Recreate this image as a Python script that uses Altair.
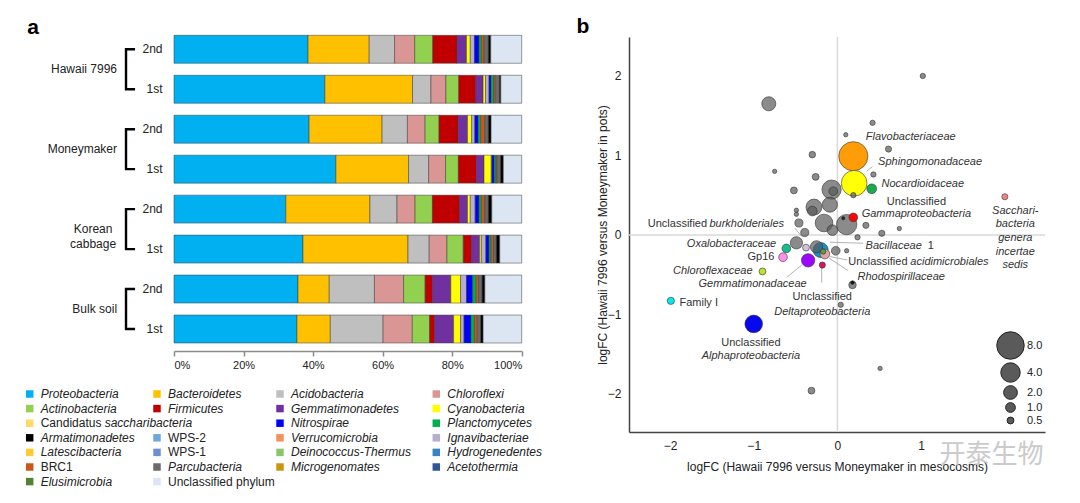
import altair as alt
import pandas as pd

FONT = "Liberation Sans"
INK = "#222222"

# ======================= panel a : phylum composition =======================
sample_keys = ["Hawaii 7996|2nd", "Hawaii 7996|1st", "Moneymaker|2nd", "Moneymaker|1st",
               "Korean cabbage|2nd", "Korean cabbage|1st", "Bulk soil|2nd", "Bulk soil|1st"]
group_labels = ["Hawaii 7996", "Moneymaker", "Korean\ncabbage", "Bulk soil"]

proteobacteria   = [38.6, 43.4, 38.9, 46.8, 32.2, 37.1, 35.7, 35.4]
bacteroidetes    = [17.6, 25.2, 21.0, 21.0, 24.2, 30.2, 9.0, 9.6]
acidobacteria    = [7.3, 5.3, 7.3, 5.8, 7.8, 6.1, 13.0, 15.2]
chloroflexi      = [5.8, 4.3, 5.1, 4.9, 5.2, 5.1, 8.4, 8.4]
actinobacteria   = [5.2, 3.7, 4.0, 3.7, 5.0, 4.7, 6.2, 5.0]
firmicutes       = [7.0, 4.9, 5.5, 5.2, 7.8, 2.4, 2.1, 1.4]
gemmatimonadetes = [2.7, 2.1, 2.7, 2.2, 2.3, 2.3, 5.3, 5.5]
cyanobacteria    = [1.1, 0.7, 1.2, 2.1, 0.8, 0.5, 2.8, 2.0]
ignavibacteriae  = [1.2, 1.0, 0.9, 0.2, 1.4, 1.3, 1.7, 1.0]
nitrospirae      = [1.3, 0.6, 1.0, 0.7, 1.1, 0.9, 1.8, 2.0]
planctomycetes   = [0.7, 0.7, 0.7, 0.5, 0.7, 0.6, 1.0, 1.0]
brc1             = [0.8, 0.5, 1.2, 0.3, 1.0, 0.7, 0.7, 0.8]
parcubacteria    = [1.2, 1.2, 1.0, 1.0, 1.0, 0.8, 1.0, 1.0]
armatimonadetes  = [0.7, 0.4, 0.8, 0.8, 1.0, 1.0, 0.8, 0.7]
unclassified     = [8.9, 6.0, 8.8, 5.3, 8.6, 6.3, 10.6, 11.1]

stack_series = [
    ("Proteobacteria", proteobacteria), ("Bacteroidetes", bacteroidetes),
    ("Acidobacteria", acidobacteria), ("Chloroflexi", chloroflexi),
    ("Actinobacteria", actinobacteria), ("Firmicutes", firmicutes),
    ("Gemmatimonadetes", gemmatimonadetes), ("Cyanobacteria", cyanobacteria),
    ("Ignavibacteriae", ignavibacteriae), ("Nitrospirae", nitrospirae),
    ("Planctomycetes", planctomycetes), ("BRC1", brc1),
    ("Parcubacteria", parcubacteria), ("Armatimonadetes", armatimonadetes),
    ("Unclassified phylum", unclassified),
]

legend_names = ["Proteobacteria", "Bacteroidetes", "Acidobacteria", "Chloroflexi",
                "Actinobacteria", "Firmicutes", "Gemmatimonadetes", "Cyanobacteria",
                "Candidatus saccharibacteria", "Nitrospirae", "Planctomycetes",
                "Armatimonadetes", "WPS-2", "Verrucomicrobia", "Ignavibacteriae",
                "Latescibacteria", "WPS-1", "Deinococcus-Thermus", "Hydrogenedentes",
                "BRC1", "Parcubacteria", "Microgenomates", "Acetothermia",
                "Elusimicrobia", "Unclassified phylum"]
legend_colors = ["#00b0f0", "#ffc000", "#bfbfbf", "#da9694",
                 "#92d050", "#c00000", "#7030a0", "#ffff00",
                 "#ffd966", "#0000ff", "#00b050",
                 "#000000", "#6fa8dc", "#f4915a", "#b7aed0",
                 "#ffcc33", "#6d8fd0", "#8dc66a", "#3b82c4",
                 "#c8581a", "#6b6b6b", "#c9960c", "#2f5597",
                 "#548235", "#dce6f2"]
legend_col = [0, 1, 2, 3, 0, 1, 2, 3, 0, 2, 3, 0, 1, 2, 3, 0, 1, 2, 3, 0, 1, 2, 3, 0, 1]
legend_row = [0, 0, 0, 0, 1, 1, 1, 1, 2, 2, 2, 3, 3, 3, 3, 4, 4, 4, 4, 5, 5, 5, 5, 6, 6]
upright_names = ["WPS-2", "WPS-1", "BRC1", "Unclassified phylum"]

# ======================= panel b : logFC bubble plot =======================
GRAY = "#5a5a5a"
pt_x = [1.02, -0.82, 0.42, 0.10, 0.19, 0.61, -0.30, -0.75, -0.26, 0.43,
        0.20, 0.41, 0.19, -0.07, -0.05, -0.52, -0.28, -0.30, -0.09, -0.49,
        -0.49, -0.16, 0.11, 0.19, -0.06, -0.46, -0.39, 0.34, 0.53, 0.74,
        0.24, 2.00, -0.61, -0.49, -0.375, -0.65, -0.35, -0.895, -1.99, -1.00,
        -0.25, -0.20, -0.15, -0.17, -0.18, -0.02, 0.11, 0.18, 0.18, 0.04,
        0.51, -0.31, 0.07]
pt_y = [2.00, 1.65, 1.41, 1.26, 0.99, 1.08, 1.01, 0.80, 0.73, 0.76,
        0.65, 0.58, 0.50, 0.57, 0.55, 0.56, 0.35, 0.30, 0.38, 0.31,
        0.26, 0.15, 0.13, 0.22, 0.06, 0.15, 0.03, 0.12, 0.02, 0.08,
        -0.03, 0.48, -0.17, -0.10, -0.16, -0.28, -0.32, -0.46, -0.83, -1.12,
        -0.15, -0.19, -0.24, -0.21, -0.38, -0.20, -0.20, -0.63, -0.60, -0.88,
        -1.68, -1.96, 0.21]
pt_abund = [0.3, 2.1, 0.3, 0.2, 9.0, 0.4, 0.45, 0.2, 0.5, 0.3,
            7.0, 1.0, 0.3, 3.9, 0.8, 0.5, 2.7, 1.0, 2.4, 0.2,
            0.2, 3.3, 4.4, 0.8, 1.2, 0.7, 0.7, 0.4, 0.4, 0.2,
            0.3, 0.4, 0.8, 1.6, 0.5, 0.8, 1.9, 0.5, 0.55, 3.3,
            1.6, 2.4, 1.0, 0.3, 0.4, 0.8, 0.2, 0.6, 0.15, 0.3,
            0.2, 0.5, 0.12]
pt_fill = [GRAY, GRAY, GRAY, GRAY, "#ff9900", GRAY, GRAY, GRAY, GRAY, GRAY,
           "#ffff00", "#12a84a", GRAY, GRAY, GRAY, GRAY, GRAY, GRAY, GRAY, GRAY,
           GRAY, GRAY, GRAY, "#ff0000", GRAY, GRAY, GRAY, GRAY, GRAY, GRAY,
           GRAY, "#f08080", "#14b88a", GRAY, "#cdbfe3", "#ff8cf0", "#9900ff", "#b8e32a", "#00e5ee", "#0000ee",
           GRAY, "#0a8fd0", "#e3a3a0", "#5c9a3c", "#d6105a", GRAY, GRAY, GRAY, "#111111", GRAY,
           GRAY, GRAY, "#222222"]

lab_text = ["Flavobacteriaceae", "Sphingomonadaceae", "Nocardioidaceae", "Unclassified",
            "Gammaproteobacteria", "Sacchari-", "bacteria", "genera", "incertae", "sedis",
            "Unclassified", "burkholderiales", "Oxalobacteraceae", "Gp16", "Chloroflexaceae",
            "Gemmatimonadaceae", "Family I", "Unclassified", "Alphaproteobacteria",
            "Bacillaceae", "1", "Unclassified", "acidimicrobiales", "Rhodospirillaceae",
            "Unclassified", "Deltaproteobacteria"]
lab_x = [0.339, 0.486, 0.526, 0.943, 0.943, 2.125, 2.125, 2.125, 2.125, 2.125,
         -1.557, -1.529, -0.732, -0.752, -1.014, -0.367, -1.887, -1.033, -1.033,
         0.336, 1.08, 0.129, 0.871, 0.240, -0.181, -0.181]
lab_y = [1.23, 0.916, 0.642, 0.419, 0.261, 0.306, 0.135, -0.038, -0.21, -0.378,
         0.139, 0.139, -0.113, -0.281, -0.453, -0.617, -0.853, -1.364, -1.524,
         -0.139, -0.139, -0.336, -0.336, -0.533, -0.777, -0.966]
lab_align = ["left", "left", "left", "center", "center", "center", "center", "center", "center", "center",
             "right", "left", "right", "right", "right", "right", "left", "center", "center",
             "left", "left", "left", "left", "left", "center", "center"]
lab_italic = [1, 1, 1, 0, 1, 1, 1, 1, 1, 1,
              0, 1, 1, 0, 1, 1, 0, 0, 1,
              1, 0, 0, 1, 1, 0, 1]

lead_x = [0.419, -0.506, -0.605, 0.307, 0.117, 0.129, -0.188]
lead_y = [0.86, 0.084, -0.533, -0.105, -0.315, -0.45, -0.60]
lead_x2 = [0.348, -0.426, -0.426, -0.089, -0.089, -0.098, -0.188]
lead_y2 = [0.80, -0.021, -0.378, -0.092, -0.273, -0.293, -0.40]

size_legend_values = [8, 4, 2, 1, 0.5]

# ======================= layout (pixels inside the 1064x487 view) =======================
W, H = 1064, 487
BAR_X_RANGE = [166, 513.7]
BAR_Y_RANGE = [25.3, 337]
LEG_COL_X = [21.7, 149.0, 272.0, 428.3]
LEG_ROW_RANGE = [386, 473.6]
SC_X_RANGE = [621, 1037]
SC_Y_RANGE = [424, 29]
SC_X_DOMAIN = [-2.49, 2.48]
SC_Y_DOMAIN = [-2.48, 2.49]

# ---------------- panel a layers ----------------
rows = []
for i, (name, vals) in enumerate(stack_series):
    for k, v in zip(sample_keys, vals):
        rows.append({"key": k, "phylum": name, "pct": v, "ord": i})
bars_df = pd.DataFrame(rows)

xa_scale = alt.Scale(domain=[0, 1], range=BAR_X_RANGE, nice=False, zero=False)
ya_scale = alt.Scale(domain=sample_keys, range=BAR_Y_RANGE, paddingInner=0.3, paddingOuter=0.05)
xa_axis = alt.Axis(orient="bottom", offset=343 - H, values=[0, 0.2, 0.4, 0.6, 0.8, 1.0],
                   format=".0%", grid=False, domainColor="#8c8c8c", domainWidth=1.5,
                   tickColor="#8c8c8c", tickWidth=1.5, tickSize=5, labelFont=FONT,
                   labelFontSize=11, labelColor=INK, labelPadding=3, title=None)
ya_axis = alt.Axis(orient="left", offset=-BAR_X_RANGE[0], domain=False, ticks=False, tickSize=0,
                   labelPadding=12, labelExpr="split(datum.label, '|')[1]", labelFont=FONT,
                   labelFontSize=12, labelColor=INK, title=None)


def XA(field):
    return alt.X(field, scale=xa_scale, axis=xa_axis)


def YA(field):
    return alt.Y(field, scale=ya_scale, axis=ya_axis)


bars = alt.Chart(bars_df).mark_bar(stroke="#3a3a3a", strokeWidth=0.5).encode(
    x=alt.X("pct:Q", stack="normalize", scale=xa_scale, axis=xa_axis),
    y=YA("key:N"),
    color=alt.Color("phylum:N", scale=alt.Scale(domain=legend_names, range=legend_colors), legend=None),
    order=alt.Order("ord:Q", sort="ascending"),
)

br_rows = []
for g in range(4):
    k2, k1 = sample_keys[2 * g], sample_keys[2 * g + 1]
    for o, (bx, k) in enumerate([(-0.112, k2), (-0.138, k2), (-0.138, k1), (-0.112, k1)]):
        br_rows.append({"grp": g, "o": o, "bx": bx, "key": k})
brackets = alt.Chart(pd.DataFrame(br_rows)).mark_line(
    color="black", strokeWidth=2.4, strokeJoin="miter", strokeCap="butt"
).encode(x=XA("bx:Q"), y=YA("key:N"), detail="grp:N", order="o:Q")

gl_df = pd.DataFrame({"label": group_labels, "key": sample_keys[0::2],
                      "gx": [-0.1638, -0.1638, -0.2328, -0.1638],
                      "al": ["right", "right", "center", "right"]})
glab_layers = []
for al in ["right", "center"]:
    glab_layers.append(
        alt.Chart(gl_df[gl_df["al"] == al]).mark_text(
            align=al, baseline="middle", font=FONT, fontSize=12, color=INK,
            dy=20, lineBreak="\n", lineHeight=15
        ).encode(x=XA("gx:Q"), y=YA("key:N"), text="label:N")
    )

panel_a = alt.layer(bars, brackets, *glab_layers)

# ---------------- custom phylum legend ----------------
leg_df = pd.DataFrame({"name": legend_names, "color": legend_colors,
                       "lx": [LEG_COL_X[c] for c in legend_col], "row": legend_row})
pix_x = alt.Scale(domain=[0, W], range=[0, W], nice=False, zero=False)
row_y = alt.Scale(domain=[0, 6], range=LEG_ROW_RANGE, nice=False, zero=False)

leg_sq = alt.Chart(leg_df).mark_square(size=56, opacity=1).encode(
    x=alt.X("lx:Q", scale=pix_x, axis=None), y=alt.Y("row:Q", scale=row_y, axis=None),
    fill=alt.Fill("color:N", scale=None))

txt = leg_df.copy()
txt["t"] = txt["name"].where(txt["name"] != "Candidatus saccharibacteria", "Candidatus")
txt["up"] = txt["name"].isin(upright_names + ["Candidatus saccharibacteria"])
leg_layers = [leg_sq]
for up in [True, False]:
    leg_layers.append(
        alt.Chart(txt[txt["up"] == up]).mark_text(
            align="left", baseline="middle", font=FONT, fontSize=12, color=INK, dx=11,
            fontStyle="normal" if up else "italic"
        ).encode(x=alt.X("lx:Q", scale=pix_x, axis=None), y=alt.Y("row:Q", scale=row_y, axis=None), text="t:N")
    )
cand = txt[txt["name"] == "Candidatus saccharibacteria"].copy()
cand["t"] = "saccharibacteria"
leg_layers.append(
    alt.Chart(cand).mark_text(align="left", baseline="middle", font=FONT, fontSize=12,
                              color=INK, dx=75, fontStyle="italic").encode(
        x=alt.X("lx:Q", scale=pix_x, axis=None), y=alt.Y("row:Q", scale=row_y, axis=None), text="t:N")
)
phylum_legend = alt.layer(*leg_layers)

# ---------------- panel b layers ----------------
xs_scale = alt.Scale(domain=SC_X_DOMAIN, range=SC_X_RANGE, nice=False, zero=False)
ys_scale = alt.Scale(domain=SC_Y_DOMAIN, range=SC_Y_RANGE, nice=False, zero=False)
xs_axis = alt.Axis(orient="bottom", offset=SC_Y_RANGE[0] - H, values=[-2, -1, 0, 1], grid=False,
                   ticks=False, tickSize=0, domainColor="#444444", domainWidth=1.5,
                   labelFont=FONT, labelFontSize=12, labelColor=INK, labelPadding=8,
                   title="logFC (Hawaii 7996 versus Moneymaker in mesocosms)", titleFont=FONT,
                   titleFontSize=12, titleFontWeight="normal", titleColor=INK, titlePadding=10)
ys_axis = alt.Axis(orient="left", offset=-SC_X_RANGE[0], values=[-2, -1, 0, 1, 2], grid=False,
                   ticks=False, tickSize=0, domainColor="#444444", domainWidth=1.5,
                   labelFont=FONT, labelFontSize=12, labelColor=INK, labelPadding=8,
                   title="logFC (Hawaii 7996 versus Moneymaker in pots)", titleFont=FONT,
                   titleFontSize=12, titleFontWeight="normal", titleColor=INK, titlePadding=-2)


def XS(field):
    return alt.X(field, scale=xs_scale, axis=xs_axis)


def YS(field):
    return alt.Y(field, scale=ys_scale, axis=ys_axis)


cross_v = alt.Chart(pd.DataFrame({"x": [0.0], "y": [SC_Y_DOMAIN[0]], "y2": [SC_Y_DOMAIN[1]]})).mark_rule(
    color="#d9d9d9", strokeWidth=1.5).encode(x=XS("x:Q"), y=YS("y:Q"), y2="y2:Q")
cross_h = alt.Chart(pd.DataFrame({"y": [0.0], "x": [SC_X_DOMAIN[0]], "x2": [SC_X_DOMAIN[1]]})).mark_rule(
    color="#d9d9d9", strokeWidth=1.5).encode(y=YS("y:Q"), x=XS("x:Q"), x2="x2:Q")

leads = alt.Chart(pd.DataFrame({"x": lead_x, "y": lead_y, "x2": lead_x2, "y2": lead_y2})).mark_rule(
    color="#b3b3b3", strokeWidth=1).encode(x=XS("x:Q"), y=YS("y:Q"), x2="x2:Q", y2="y2:Q")

pts_df = pd.DataFrame({"x": pt_x, "y": pt_y, "v": pt_abund, "c": pt_fill})
pts_df["op"] = [0.7 if c == GRAY else 0.97 for c in pt_fill]
pts_df = pts_df.sort_values("v", ascending=False)
points = alt.Chart(pts_df).mark_circle(
    stroke="#333333", strokeWidth=0.6, fill="#5a5a5a", fillOpacity=0.9
).encode(
    x=XS("x:Q"), y=YS("y:Q"),
    size=alt.Size("v:Q", scale=alt.Scale(domain=[0, 8], range=[0, 755], zero=True),
                  legend=alt.Legend(values=size_legend_values, orient="none", legendX=988, legendY=323,
                                    title=None, format=".1f", padding=0, rowPadding=-2, labelOffset=2,
                                    labelFont=FONT, labelFontSize=11, labelColor=INK,
                                    symbolFillColor="#5a5a5a", symbolStrokeColor="#222222",
                                    symbolStrokeWidth=1, symbolOpacity=1, direction="vertical")),
    fill=alt.Fill("c:N", scale=None),
    fillOpacity=alt.FillOpacity("op:Q", scale=None),
    order=alt.Order("v:Q", sort="descending"),
)

lab_df = pd.DataFrame({"t": lab_text, "x": lab_x, "y": lab_y, "al": lab_align, "it": lab_italic})
lab_layers = []
for al in ["left", "center", "right"]:
    for it in [0, 1]:
        sub = lab_df[(lab_df["al"] == al) & (lab_df["it"] == it)]
        if len(sub) == 0:
            continue
        lab_layers.append(
            alt.Chart(sub).mark_text(align=al, baseline="middle", font=FONT, fontSize=11,
                                     color="#333333", fontStyle="italic" if it else "normal").encode(
                x=XS("x:Q"), y=YS("y:Q"), text="t:N")
        )

watermark = alt.Chart(pd.DataFrame({"t": ["开泰生物"], "x": [1.84], "y": [-2.77]})).mark_text(
    font="Noto Sans CJK SC", fontSize=26, color="#c2c2c2", opacity=0.85, align="center", baseline="middle"
).encode(x=XS("x:Q"), y=YS("y:Q"), text="t:N")

panel_b = alt.layer(cross_v, cross_h, leads, points, *lab_layers, watermark)

# ---------------- panel letters ----------------
letter_a = alt.Chart(pd.DataFrame({"t": ["a"]})).mark_text(
    font=FONT, fontSize=21, fontWeight="bold", color="black", align="center", baseline="middle"
).encode(x=alt.value(25), y=alt.value(20), text="t:N")
letter_b = alt.Chart(pd.DataFrame({"t": ["b"]})).mark_text(
    font=FONT, fontSize=21, fontWeight="bold", color="black", align="center", baseline="middle"
).encode(x=alt.value(575), y=alt.value(19), text="t:N")

chart = alt.layer(panel_a, phylum_legend, panel_b, letter_a, letter_b).resolve_scale(
    x="independent", y="independent", color="independent", size="independent"
).resolve_axis(x="independent", y="independent").properties(
    width=W, height=H, padding=0, autosize=alt.AutoSizeParams(type="none")
).configure_view(stroke=None)

chart.save("out.html", embed_options={"renderer": "svg", "actions": False})
